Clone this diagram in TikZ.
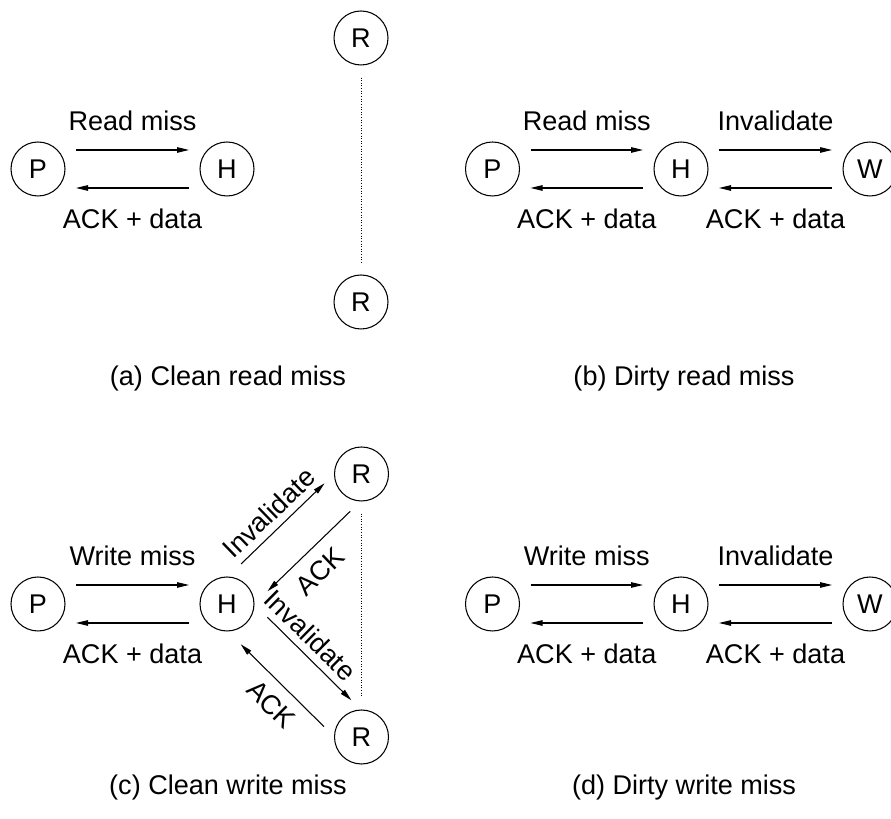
\documentclass[tikz,border=0pt]{standalone}
\usepackage{fontspec}
\setmainfont{Liberation Sans}
\usetikzlibrary{arrows.meta,calc}

\tikzset{
  agent/.style={draw,circle,minimum size=1.08cm,inner sep=0pt,line width=0.6pt},
  msg/.style={-{Triangle[length=0.24cm,width=0.11cm]},line width=0.6pt,
    shorten <=0.76cm,shorten >=0.76cm},
  link/.style={densely dotted,line width=0.5pt,shorten <=0.24cm,shorten >=0.24cm},
  toptag/.style={above,inner sep=0.37cm},
  bottag/.style={below,inner sep=0.40cm},
  stag/.style={sloped,inner sep=0.14cm},
}

\begin{document}
\begin{tikzpicture}[font=\fontsize{15.4}{18}\selectfont]
  \useasboundingbox (0,0) rectangle (17.82,16.38);
  % (a) clean read miss
  \node[agent] (Pa) at (0.76,13.00) {P};
  \node[agent] (Ha) at (4.54,13.00) {H};
  \node[agent] (RTa) at (7.22,15.62) {R};
  \node[agent] (RBa) at (7.22,10.34) {R};
  \draw[link] (RTa) -- (RBa);
  \draw[msg] ($(Pa)!0.38cm!90:(Ha)$) -- ($(Ha)!0.38cm!-90:(Pa)$) node[toptag,midway] {Read miss};
  \draw[msg] ($(Ha)!0.38cm!90:(Pa)$) -- ($(Pa)!0.38cm!-90:(Ha)$) node[bottag,midway] {ACK + data};
  \node[anchor=base] (capa) at (4.56,8.66) {(a) Clean read miss};
  % (b) dirty read miss
  \node[agent] (Pb) at (9.85,13.00) {P};
  \node[agent] (Hb) at (13.62,13.00) {H};
  \node[agent] (Wb) at (17.40,13.00) {W};
  \draw[msg] ($(Pb)!0.38cm!90:(Hb)$) -- ($(Hb)!0.38cm!-90:(Pb)$) node[toptag,midway] {Read miss};
  \draw[msg] ($(Hb)!0.38cm!90:(Pb)$) -- ($(Pb)!0.38cm!-90:(Hb)$) node[bottag,midway] {ACK + data};
  \draw[msg] ($(Hb)!0.38cm!90:(Wb)$) -- ($(Wb)!0.38cm!-90:(Hb)$) node[toptag,midway] {Invalidate};
  \draw[msg] ($(Wb)!0.38cm!90:(Hb)$) -- ($(Hb)!0.38cm!-90:(Wb)$) node[bottag,midway] {ACK + data};
  \node[anchor=base] (capb) at (13.68,8.66) {(b) Dirty read miss};
  % (c) clean write miss
  \node[agent] (Pc) at (0.76,4.30) {P};
  \node[agent] (Hc) at (4.54,4.30) {H};
  \node[agent] (RTc) at (7.23,6.90) {R};
  \node[agent] (RBc) at (7.23,1.64) {R};
  \draw[link] (RTc) -- (RBc);
  \draw[msg] ($(Pc)!0.38cm!90:(Hc)$) -- ($(Hc)!0.38cm!-90:(Pc)$) node[toptag,midway] {Write miss};
  \draw[msg] ($(Hc)!0.38cm!90:(Pc)$) -- ($(Pc)!0.38cm!-90:(Hc)$) node[bottag,midway] {ACK + data};
  \draw[msg,shorten >=0.66cm] ($(Hc)!0.38cm!90:(RTc)$) -- ($(RTc)!0.38cm!-90:(Hc)$)
    node[stag,midway,above] {Invalidate};
  \draw[msg,shorten <=0.68cm] ($(RTc)!0.38cm!90:(Hc)$) -- ($(Hc)!0.38cm!-90:(RTc)$)
    node[stag,pos=0.52,below,inner sep=0.24cm] {ACK};
  \draw[msg,shorten >=0.66cm] ($(Hc)!0.38cm!90:(RBc)$) -- ($(RBc)!0.38cm!-90:(Hc)$)
    node[stag,pos=0.43,above] {Invalidate};
  \draw[msg,shorten <=0.68cm] ($(RBc)!0.38cm!90:(Hc)$) -- ($(Hc)!0.38cm!-90:(RBc)$)
    node[stag,pos=0.46,below,inner sep=0.22cm] {ACK};
  \node[anchor=base] (capc) at (4.56,0.48) {(c) Clean write miss};
  % (d) dirty write miss
  \node[agent] (Pd) at (9.85,4.30) {P};
  \node[agent] (Hd) at (13.62,4.30) {H};
  \node[agent] (Wd) at (17.40,4.30) {W};
  \draw[msg] ($(Pd)!0.38cm!90:(Hd)$) -- ($(Hd)!0.38cm!-90:(Pd)$) node[toptag,midway] {Write miss};
  \draw[msg] ($(Hd)!0.38cm!90:(Pd)$) -- ($(Pd)!0.38cm!-90:(Hd)$) node[bottag,midway] {ACK + data};
  \draw[msg] ($(Hd)!0.38cm!90:(Wd)$) -- ($(Wd)!0.38cm!-90:(Hd)$) node[toptag,midway] {Invalidate};
  \draw[msg] ($(Wd)!0.38cm!90:(Hd)$) -- ($(Hd)!0.38cm!-90:(Wd)$) node[bottag,midway] {ACK + data};
  \node[anchor=base] (capd) at (13.68,0.48) {(d) Dirty write miss};
\end{tikzpicture}
\end{document}
